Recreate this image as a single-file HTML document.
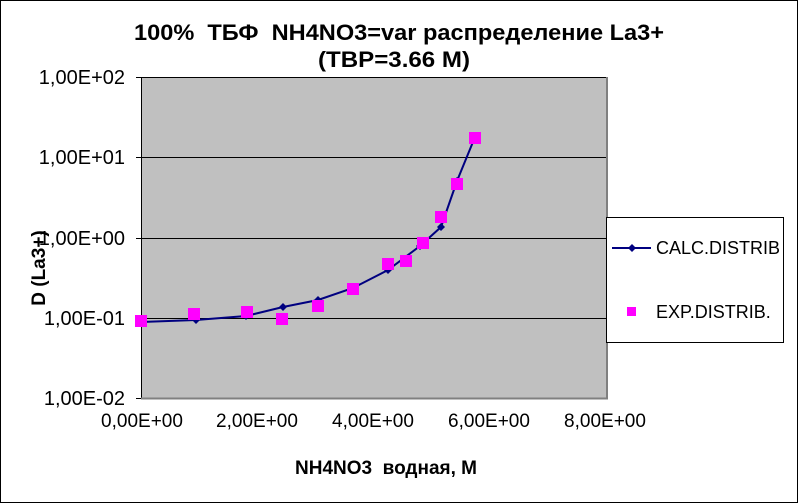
<!DOCTYPE html>
<html><head><meta charset="utf-8"><style>body{margin:0;background:#fff}svg{display:block}text{white-space:pre}</style></head><body>
<svg width="798" height="503" xmlns="http://www.w3.org/2000/svg" font-family="Liberation Sans, Arial, sans-serif">
<rect x="0.5" y="0.5" width="797" height="502" fill="#fff" stroke="#000"/>
<text x="399" y="40" font-size="22" font-weight="bold" text-anchor="middle" xml:space="preserve" textLength="530" lengthAdjust="spacingAndGlyphs">100%  ТБФ  NH4NO3=var распределение La3+</text>
<text x="394" y="67" font-size="22" font-weight="bold" text-anchor="middle" textLength="152" lengthAdjust="spacingAndGlyphs">(TBP=3.66 M)</text>
<rect x="141" y="77" width="466" height="321" fill="#c0c0c0"/>
<g stroke="#000" stroke-width="1">
<line x1="141" y1="77.5" x2="607" y2="77.5"/><line x1="141" y1="157.5" x2="607" y2="157.5"/>
<line x1="141" y1="238.5" x2="607" y2="238.5"/><line x1="141" y1="318.5" x2="607" y2="318.5"/>
<line x1="141.5" y1="77" x2="141.5" y2="398"/>
<line x1="136" y1="77.5" x2="141" y2="77.5"/><line x1="136" y1="157.5" x2="141" y2="157.5"/><line x1="136" y1="238.5" x2="141" y2="238.5"/><line x1="136" y1="318.5" x2="141" y2="318.5"/><line x1="136" y1="398.5" x2="141" y2="398.5"/>
</g>
<line x1="141" y1="398.5" x2="608" y2="398.5" stroke="#808080" stroke-width="2"/>
<line x1="607" y1="77" x2="607" y2="399" stroke="#808080" stroke-width="2"/>
<g font-size="20" text-anchor="end" fill="#000">
<text x="125" y="84">1,00E+02</text><text x="125" y="164">1,00E+01</text><text x="125" y="245">1,00E+00</text><text x="125" y="325">1,00E-01</text><text x="125" y="405">1,00E-02</text>
</g>
<g font-size="19" text-anchor="middle">
<text x="142" y="427">0,00E+00</text><text x="257" y="427">2,00E+00</text><text x="373" y="427">4,00E+00</text><text x="489" y="427">6,00E+00</text><text x="605" y="427">8,00E+00</text>
</g>
<text x="386" y="474" font-size="19" font-weight="bold" text-anchor="middle" xml:space="preserve">NH4NO3  водная, M</text>
<text transform="translate(45,268) rotate(-90)" font-size="19" font-weight="bold" text-anchor="middle">D (La3+)</text>
<polyline fill="none" stroke="#000080" stroke-width="2" points="141,322 196,320 246,316 283,307 318,300 353,288 388,270 420,246 441,227 457,181 475,137"/>
<g fill="#000080">
<path d="M141,318l4,4-4,4-4-4z M196,316l4,4-4,4-4-4z M246,312l4,4-4,4-4-4z M283,303l4,4-4,4-4-4z M318,296l4,4-4,4-4-4z M353,284l4,4-4,4-4-4z M388,266l4,4-4,4-4-4z M420,242l4,4-4,4-4-4z M441,223l4,4-4,4-4-4z M457,177l4,4-4,4-4-4z M475,133l4,4-4,4-4-4z"/>
</g>
<g fill="#ff00ff">
<rect x="135" y="315" width="12" height="12"/><rect x="188" y="308" width="12" height="12"/><rect x="241" y="306" width="12" height="12"/><rect x="276" y="313" width="12" height="12"/><rect x="312" y="300" width="12" height="12"/><rect x="347" y="283" width="12" height="12"/><rect x="382" y="258" width="12" height="12"/><rect x="400" y="255" width="12" height="12"/><rect x="417" y="237" width="12" height="12"/><rect x="435" y="211" width="12" height="12"/><rect x="451" y="178" width="12" height="12"/><rect x="469" y="132" width="12" height="12"/>
</g>
<rect x="606.5" y="217.5" width="177" height="125" fill="#fff" stroke="#000"/>
<line x1="612" y1="248" x2="651" y2="248" stroke="#000080" stroke-width="2"/>
<path d="M632,244l4,4-4,4-4-4z" fill="#000080"/>
<text x="656" y="254" font-size="18">CALC.DISTRIB</text>
<rect x="627" y="307" width="9" height="9" fill="#ff00ff"/>
<text x="656" y="318" font-size="18">EXP.DISTRIB.</text>
</svg>
</body></html>
